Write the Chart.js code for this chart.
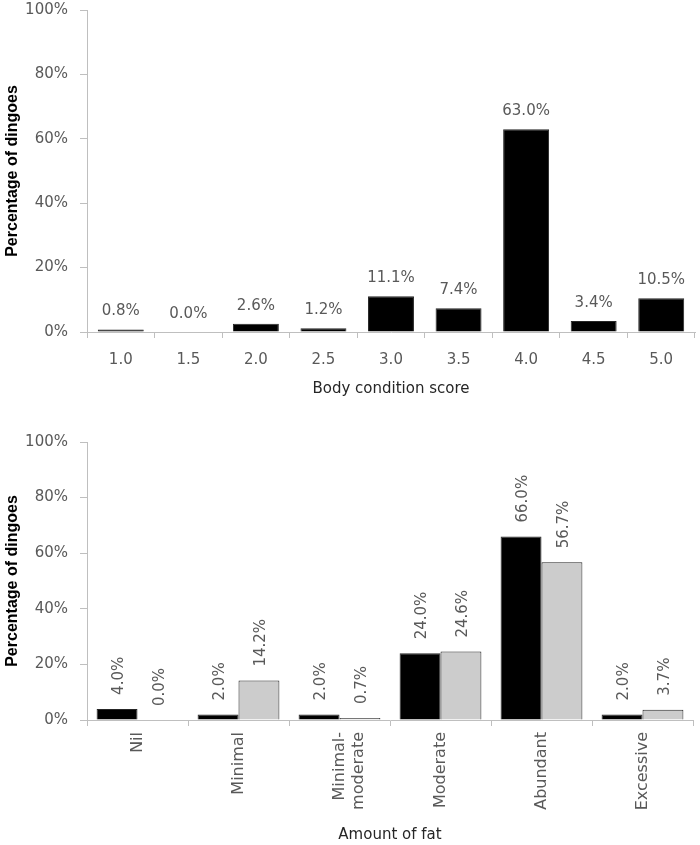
<!DOCTYPE html>
<html>
<head>
<meta charset="utf-8">
<script src="https://cdn.jsdelivr.net/npm/chart.js@4/dist/chart.umd.min.js"></script>
<style>
  html, body { margin: 0; padding: 0; background: #fff; }
  #wrap { position: relative; width: 700px; height: 845px; }
  #c1 { position: absolute; left: 0; top: 0; }
  #c2 { position: absolute; left: 0; top: 405px; }
</style>
</head>
<body>
<div id="wrap">
  <canvas id="c1" width="700" height="405"></canvas>
  <canvas id="c2" width="700" height="440"></canvas>
</div>
<script>
// ---- Data ----
const bcsCategories = ['1.0', '1.5', '2.0', '2.5', '3.0', '3.5', '4.0', '4.5', '5.0'];
const bcsValues = [0.8, 0.0, 2.6, 1.2, 11.1, 7.4, 63.0, 3.4, 10.5];

const fatCategories = ['Nil', 'Minimal', ['Minimal-', 'moderate'], 'Moderate', 'Abundant', 'Excessive'];
const fatSeriesA = [4.0, 2.0, 2.0, 24.0, 66.0, 2.0];
const fatSeriesB = [0.0, 14.2, 0.7, 24.6, 56.7, 3.7];

const yTicks = [0, 20, 40, 60, 80, 100];

// ---- Styles ----
const AXIS = '#bfbfbf';
const TICKTXT = '#595959';
Chart.defaults.font.family = "'DejaVu Sans', Verdana, sans-serif";
Chart.defaults.animation = false;

const valueLabels = {
  id: 'valueLabels',
  afterDatasetsDraw(chart, args, opts) {
    const ctx = chart.ctx;
    ctx.save();
    ctx.fillStyle = TICKTXT;
    ctx.font = "15px 'DejaVu Sans', Verdana, sans-serif";
    chart.data.datasets.forEach((ds, di) => {
      const meta = chart.getDatasetMeta(di);
      meta.data.forEach((bar, i) => {
        const txt = ds.data[i].toFixed(1) + '%';
        if (opts.rotated) {
          ctx.save();
          ctx.translate(bar.x + 2, bar.y - 14);
          ctx.rotate(-Math.PI / 2);
          ctx.textAlign = 'left';
          ctx.textBaseline = 'middle';
          ctx.fillText(txt, 0, 0);
          ctx.restore();
        } else {
          ctx.textAlign = 'center';
          ctx.textBaseline = 'middle';
          ctx.fillText(txt, bar.x, bar.y - 18);
        }
      });
    });
    ctx.restore();
  }
};

function yScale(width) {
  return {
    min: 0, max: 100,
    afterBuildTicks: s => { s.ticks = yTicks.map(v => ({ value: v })); },
    afterFit: s => { s.width = width; s.paddingTop = 0; s.paddingBottom = 0; },
    border: { color: AXIS, width: 1 },
    grid: { drawOnChartArea: false, tickLength: 7, color: AXIS },
    ticks: { color: TICKTXT, font: { size: 15 }, padding: 12, callback: v => v + '%' },
    title: {
      display: true, text: 'Percentage of dingoes', color: '#000',
      font: { family: "'Liberation Sans', Arial, sans-serif", size: 16, weight: 'bold' },
      padding: { top: 3, bottom: 0 }
    }
  };
}

new Chart(document.getElementById('c1'), {
  type: 'bar',
  data: {
    labels: bcsCategories,
    datasets: [{
      label: 'Body condition score',
      data: bcsValues,
      backgroundColor: '#000000',
      borderColor: '#262626',
      borderWidth: 1,
      categoryPercentage: 0.68,
      barPercentage: 1.0
    }]
  },
  options: {
    responsive: false,
    layout: { padding: { top: 10, right: 5, left: 0, bottom: 0 } },
    plugins: { legend: { display: false }, tooltip: { enabled: false }, valueLabels: { rotated: false } },
    scales: {
      x: {
        afterFit: s => { s.height = 73; },
        border: { color: AXIS, width: 1 },
        grid: { drawOnChartArea: false, offset: true, tickLength: 6, color: AXIS },
        ticks: { color: TICKTXT, font: { size: 15 }, padding: 13, maxRotation: 0 },
        title: {
          display: true, text: 'Body condition score', color: '#262626',
          font: { size: 15 }, padding: { top: 4, bottom: 7 }
        }
      },
      y: yScale(87)
    }
  },
  plugins: [valueLabels]
});

new Chart(document.getElementById('c2'), {
  type: 'bar',
  data: {
    labels: fatCategories,
    datasets: [{
      label: 'Group 1',
      data: fatSeriesA,
      backgroundColor: '#000000',
      borderColor: '#262626',
      borderWidth: 1,
      categoryPercentage: 0.81,
      barPercentage: 1.0
    }, {
      label: 'Group 2',
      data: fatSeriesB,
      backgroundColor: '#cccccc',
      borderColor: '#262626',
      borderWidth: 1,
      categoryPercentage: 0.81,
      barPercentage: 1.0
    }]
  },
  options: {
    responsive: false,
    layout: { padding: { top: 37, right: 7, left: 0, bottom: 0 } },
    plugins: { legend: { display: false }, tooltip: { enabled: false }, valueLabels: { rotated: true } },
    scales: {
      x: {
        afterFit: s => { s.height = 125; },
        border: { color: AXIS, width: 1 },
        grid: { drawOnChartArea: false, offset: true, tickLength: 6, color: AXIS },
        ticks: { color: TICKTXT, font: { size: 16 }, padding: 6, minRotation: 90, maxRotation: 90, autoSkip: false },
        title: {
          display: true, text: 'Amount of fat', color: '#262626',
          font: { size: 15 }, padding: { top: 4, bottom: 1 }
        }
      },
      y: yScale(87)
    }
  },
  plugins: [valueLabels]
});
</script>
</body>
</html>
